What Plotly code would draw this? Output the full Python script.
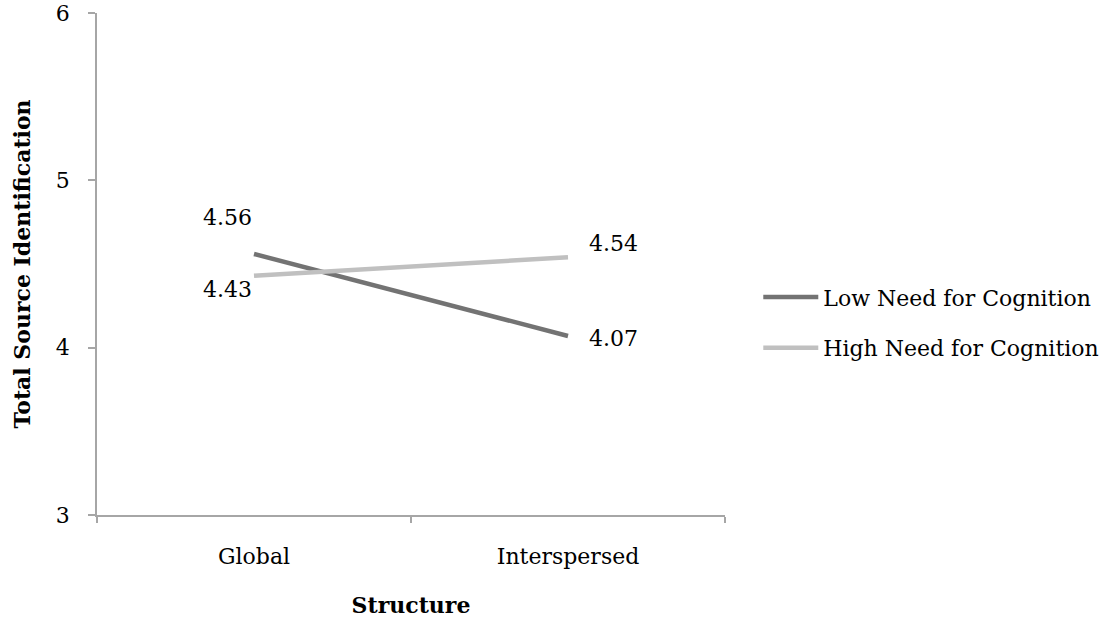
import plotly.graph_objects as go

categories = ["Global", "Interspersed"]
low_nfc = [4.56, 4.07]
high_nfc = [4.43, 4.54]
series_names = ["Low Need for Cognition", "High Need for Cognition"]
y_ticks = [3, 4, 5, 6]

FONT = "DejaVu Serif"
FS = 22
low_color = "#737373"
high_color = "#c0c0c0"
axis_color = "#a6a6a6"

fig = go.Figure()
fig.add_trace(go.Scatter(x=categories, y=low_nfc, mode="lines", name=series_names[0],
                         legendgroup="a", line=dict(color=low_color, width=4.5)))
fig.add_trace(go.Scatter(x=categories, y=high_nfc, mode="lines", name=series_names[1],
                         legendgroup="b", line=dict(color=high_color, width=4.5)))

# data labels: (series values, index, xshift, yshift)
label_specs = [
    (low_nfc, 0, -27, 36),
    (high_nfc, 0, -27, -14),
    (high_nfc, 1, 45, 14),
    (low_nfc, 1, 45, -3),
]
for vals, i, dx, dy in label_specs:
    fig.add_annotation(x=categories[i], y=vals[i], text=f"{vals[i]:.2f}", showarrow=False,
                       xshift=dx, yshift=dy, font=dict(family=FONT, size=FS, color="#000"))

fig.update_layout(
    width=1102, height=626,
    margin=dict(l=97, r=377, t=13, b=111, autoexpand=False),
    paper_bgcolor="white", plot_bgcolor="white",
    font=dict(family=FONT, size=FS, color="#000"),
    showlegend=True,
    legend=dict(x=1.053, y=0.383, xanchor="left", yanchor="middle",
                font=dict(family=FONT, size=FS), itemwidth=55,
                tracegroupgap=19, bgcolor="rgba(0,0,0,0)"),
    xaxis=dict(
        type="category", range=[-0.5, 1.5], tickson="boundaries", automargin=False,
        showline=True, linecolor=axis_color, linewidth=1.5,
        ticks="outside", ticklen=6, tickcolor=axis_color, tickwidth=1.5,
        showgrid=False, zeroline=False,
        tickfont=dict(family=FONT, size=FS), ticklabelstandoff=21,
        title=dict(text="<b>Structure</b>", font=dict(family=FONT, size=FS), standoff=29),
    ),
    yaxis=dict(
        range=[3, 6], tickvals=y_ticks, automargin=False,
        showline=True, linecolor=axis_color, linewidth=1.5,
        ticks="outside", ticklen=7, tickcolor=axis_color, tickwidth=1.5,
        showgrid=False, zeroline=False,
        tickfont=dict(family=FONT, size=FS), ticklabelstandoff=14,
        title=dict(text="<b>Total Source Identification</b>", font=dict(family=FONT, size=FS), standoff=19),
    ),
)

fig.write_html("out.html", config={"displayModeBar": False},
               post_script="document.body.style.margin='0';")
